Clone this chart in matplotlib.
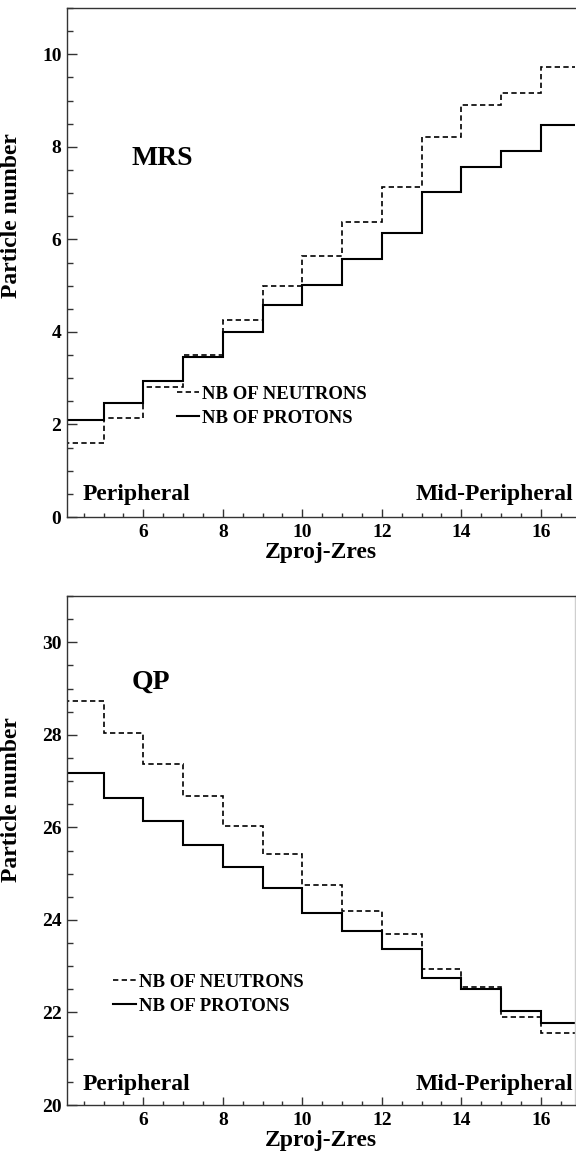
import numpy as np
import matplotlib
matplotlib.use("Agg")
import matplotlib.pyplot as plt
from matplotlib.ticker import MultipleLocator

plt.rcParams['font.family'] = ['Liberation Serif', 'DejaVu Serif']
plt.rcParams['font.weight'] = 'bold'

# Zproj-Zres bins (lower edges 4..16, width 1)
zbins = [4, 5, 6, 7, 8, 9, 10, 11, 12, 13, 14, 15, 16]

# MRS panel
mrs_neutrons = [1.60, 2.15, 2.80, 3.50, 4.26, 5.00, 5.63, 6.37, 7.13, 8.22, 8.90, 9.16, 9.73]
mrs_protons = [2.10, 2.47, 2.94, 3.46, 4.00, 4.58, 5.02, 5.58, 6.13, 7.02, 7.57, 7.90, 8.48]

# QP panel
qp_neutrons = [28.74, 28.03, 27.36, 26.67, 26.04, 25.43, 24.76, 24.20, 23.69, 22.93, 22.56, 21.91, 21.55]
qp_protons = [27.18, 26.64, 26.13, 25.62, 25.14, 24.70, 24.16, 23.77, 23.38, 22.75, 22.50, 22.03, 21.77]

legend_labels = ["NB OF NEUTRONS", "NB OF PROTONS"]

W, H = 576, 1154
fig = plt.figure(figsize=(W / 100, H / 100), dpi=100)

ax_left = 67 / W
ax_w = (575 - 67) / W
ax_h = 509 / H
ax_top = fig.add_axes([ax_left, 1 - 517 / H, ax_w, ax_h])
ax_bot = fig.add_axes([ax_left, 1 - 1105 / H, ax_w, ax_h])

edges = np.append(np.array(zbins, dtype=float), zbins[-1] + 1)

panels = [
    (ax_top, mrs_neutrons, mrs_protons, (0, 11), 'MRS', (6.47, 7.75), (0.48,),
     (0.2165, 0.258), 0.593),
    (ax_bot, qp_neutrons, qp_protons, (20, 31), 'QP', (6.2, 29.13), (20.45,),
     (0.0906, 0.258), 0.60),
]

for ax, neut, prot, ylim, name, name_xy, lab_y, leg_anchor, ylab_pos in panels:
    h1 = ax.stairs(neut, edges, baseline=None, color='black', lw=1.2,
                   linestyle=(0, (3.2, 2.0)), label=legend_labels[0])
    h2 = ax.stairs(prot, edges, baseline=None, color='black', lw=1.5,
                   label=legend_labels[1])
    ax.set_xlim(4.08, 16.86)
    ax.set_ylim(*ylim)

    ax.xaxis.set_major_locator(MultipleLocator(2))
    ax.xaxis.set_minor_locator(MultipleLocator(0.5))
    ax.yaxis.set_major_locator(MultipleLocator(2))
    ax.yaxis.set_minor_locator(MultipleLocator(0.5))
    ax.tick_params(axis='both', which='both', direction='in', color='#333333',
                   top=False, right=False, labelsize=14)
    ax.tick_params(axis='x', which='major', length=6, width=1.0, pad=5)
    ax.tick_params(axis='x', which='minor', length=3, width=1.0)
    ax.tick_params(axis='y', which='major', length=7.5, width=1.0, pad=4)
    ax.tick_params(axis='y', which='minor', length=4, width=1.0)
    for lbl in ax.get_xticklabels() + ax.get_yticklabels():
        lbl.set_fontweight('bold')

    for s in ['left', 'bottom', 'top']:
        ax.spines[s].set_color('#333333')
        ax.spines[s].set_linewidth(1.0)
    if ax is ax_top:
        ax.spines['right'].set_visible(False)
    else:
        ax.spines['right'].set_color('#cfcfcf')
        ax.spines['right'].set_linewidth(1.0)

    ax.set_xlabel('Zproj-Zres', fontsize=17, fontweight='bold', labelpad=1)
    ax.set_ylabel('Particle number', fontsize=17, fontweight='bold')
    ax.yaxis.set_label_coords(-0.088, ylab_pos)

    ax.text(name_xy[0], name_xy[1], name, fontsize=20, fontweight='bold',
            ha='center', va='center')
    ax.text(4.48, lab_y[0], 'Peripheral', fontsize=17, fontweight='bold',
            ha='left', va='center')
    ax.text(16.82, lab_y[0], 'Mid-Peripheral', fontsize=17, fontweight='bold',
            ha='right', va='center')

    leg = ax.legend(handles=[h1, h2], loc='upper left',
                    bbox_to_anchor=leg_anchor, frameon=False,
                    prop={'family': 'Liberation Serif', 'weight': 'bold', 'size': 13.5},
                    handlelength=1.2, handletextpad=0.16, labelspacing=0.38,
                    borderpad=0, borderaxespad=0)

fig.savefig('out.png', dpi=100)
